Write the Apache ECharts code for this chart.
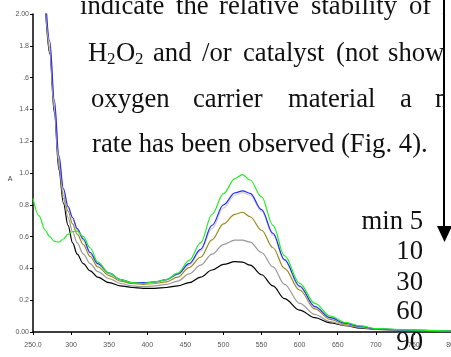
<!DOCTYPE html>
<html>
<head>
<meta charset="utf-8">
<script src="https://cdn.jsdelivr.net/npm/echarts@6/dist/echarts.min.js"></script>
<style>
  html, body { margin: 0; padding: 0; background: #fff; }
  #chart { width: 451px; height: 357px; }
</style>
</head>
<body>
<div id="chart"></div>
<script>
// wavelengths (nm) shared by all curves
const wavelengths = [250, 258, 266, 272, 278, 284, 290, 296, 302, 308, 316, 325, 335, 350, 365, 380, 395, 410, 425, 440, 455, 470, 485, 500, 515, 525, 535, 550, 565, 580, 600, 620, 640, 660, 680, 700, 750, 800]

// absorbance per curve (null = not drawn there)
const black = [null, null, 2.06, 1.75, 1.38, 1.02, 0.81, 0.67, 0.56, 0.49, 0.43, 0.385, 0.345, 0.31, 0.29, 0.28, 0.275, 0.275, 0.28, 0.29, 0.31, 0.345, 0.39, 0.425, 0.442, 0.44, 0.42, 0.36, 0.29, 0.21, 0.138, 0.09, 0.058, 0.04, 0.025, 0.017, 0.01, 0.005]
const gray = [null, null, 2.08, 1.77, 1.4, 1.05, 0.84, 0.72, 0.63, 0.56, 0.49, 0.43, 0.38, 0.335, 0.305, 0.29, 0.285, 0.29, 0.3, 0.32, 0.365, 0.42, 0.49, 0.55, 0.578, 0.578, 0.565, 0.5, 0.41, 0.3, 0.18, 0.11, 0.065, 0.042, 0.028, 0.018, 0.01, 0.005]
const olive = [null, null, 2.1, 1.79, 1.42, 1.07, 0.86, 0.76, 0.68, 0.615, 0.55, 0.475, 0.41, 0.355, 0.32, 0.305, 0.3, 0.305, 0.315, 0.345, 0.405, 0.47, 0.58, 0.68, 0.74, 0.753, 0.725, 0.64, 0.53, 0.4, 0.264, 0.145, 0.08, 0.048, 0.03, 0.018, 0.01, 0.005]
const lightGray = [null, null, 2.13, 1.81, 1.44, 1.09, 0.88, 0.78, 0.71, 0.64, 0.575, 0.49, 0.425, 0.365, 0.328, 0.31, 0.305, 0.31, 0.325, 0.36, 0.42, 0.51, 0.65, 0.78, 0.86, 0.876, 0.86, 0.76, 0.61, 0.45, 0.28, 0.155, 0.088, 0.053, 0.033, 0.02, 0.01, 0.005]
const blue = [null, null, 2.14, 1.83, 1.46, 1.11, 0.9, 0.79, 0.72, 0.65, 0.585, 0.5, 0.43, 0.37, 0.33, 0.31, 0.31, 0.315, 0.33, 0.365, 0.43, 0.52, 0.67, 0.8, 0.875, 0.888, 0.872, 0.77, 0.62, 0.455, 0.289, 0.16, 0.09, 0.055, 0.035, 0.02, 0.01, 0.005]
const green = [0.84, 0.73, 0.64, 0.6, 0.57, 0.565, 0.585, 0.615, 0.632, 0.635, 0.6, 0.53, 0.44, 0.37, 0.33, 0.31, 0.305, 0.315, 0.33, 0.37, 0.45, 0.56, 0.74, 0.87, 0.965, 0.99, 0.956, 0.85, 0.67, 0.48, 0.306, 0.18, 0.1, 0.06, 0.038, 0.022, 0.012, 0.006]

// overlapping page text (justified words) and the time labels
const textLines = [
  ['indicate', 'the', 'relative', 'stability', 'of', 'H'],
  ['and', '/or', 'catalyst', '(not', 'shown'],
  ['oxygen', 'carrier', 'material', 'a', 'm'],
  ['rate has been observed (Fig. 4).'],
]
const wordX = [
  [80, 176, 219, 311, 409, 442],
  [153, 202, 243, 336, 388],
  [91, 193, 288, 400, 435],
  [92],
]
const lineBaseline = [15, 62, 108, 153]
const timeLabels = ['min 5', '10', '30', '60', '90']
const timeBaseline = [230, 260, 291, 320, 351]

const chart = echarts.init(document.getElementById('chart'))

const SERIF = '26.7px "Liberation Serif", "Times New Roman", serif'
const toMid = 8 // baseline -> middle offset for the serif text

const makeSeries = (vals, color, z) => ({
  type: 'line',
  data: wavelengths.map((w, i) => [w, vals[i]]),
  smooth: 0.35,
  smoothMonotone: 'x',
  showSymbol: false,
  z: z,
  lineStyle: { color: color, width: 1.2 },
  animation: false,
})

const graphics = []
textLines.forEach((words, li) => {
  words.forEach((w, wi) => {
    graphics.push({
      type: 'text', z: 50,
      style: { text: w, x: wordX[li][wi], y: lineBaseline[li] - toMid, font: SERIF, fill: '#111', verticalAlign: 'middle', align: 'left' },
    })
  })
})
// H2O2 with subscripts
const sub = [['H', 88, 0], ['2', 107, 1], ['O', 116, 0], ['2', 135, 1]]
sub.forEach(([t, x, s]) => {
  graphics.push({
    type: 'text', z: 50,
    style: {
      text: t, x: x,
      y: s ? lineBaseline[1] - 2 : lineBaseline[1] - toMid,
      font: s ? '17px "Liberation Serif", serif' : SERIF,
      fill: '#111', verticalAlign: 'middle', align: 'left',
    },
  })
})
timeLabels.forEach((t, i) => {
  graphics.push({
    type: 'text', z: 50,
    style: { text: t, x: 423, y: timeBaseline[i] - toMid, font: SERIF, fill: '#111', verticalAlign: 'middle', align: 'right' },
  })
})
// white strip right of the arrow, arrow line and head
graphics.push({ type: 'rect', z: 60, shape: { x: 445, y: 0, width: 6, height: 226 }, style: { fill: '#fff' } })
graphics.push({ type: 'line', z: 61, shape: { x1: 444, y1: 0, x2: 444, y2: 230 }, style: { stroke: '#000', lineWidth: 2 } })
graphics.push({ type: 'polygon', z: 61, shape: { points: [[437, 226], [452, 226], [444.5, 242]] }, style: { fill: '#000' } })
// y axis name
graphics.push({ type: 'text', z: 50, style: { text: 'A', x: 10, y: 179, font: '7px "Liberation Sans", Arial, sans-serif', fill: '#444', align: 'center', verticalAlign: 'middle' } })

chart.setOption({
  animation: false,
  grid: { left: 33, right: -1, top: 14, bottom: 25, containLabel: false, outerBoundsMode: 'none' },
  xAxis: {
    type: 'value',
    min: 250,
    max: 800,
    interval: 50,
    axisLine: { lineStyle: { color: '#000', width: 1.5 } },
    axisTick: { show: true, length: 3, lineStyle: { color: '#000' } },
    axisLabel: {
      fontSize: 7, color: '#555', margin: 10,
      fontFamily: '"Liberation Sans", Arial, sans-serif',
      formatter: (v) => (v === 250 ? '250.0' : String(v)),
    },
    splitLine: { show: false },
  },
  yAxis: {
    type: 'value',
    min: 0,
    max: 2,
    interval: 0.2,
    axisLine: { show: true, lineStyle: { color: '#000', width: 1.5 } },
    axisTick: { show: true, length: 3, lineStyle: { color: '#000' } },
    axisLabel: {
      fontSize: 7, color: '#555', margin: 4,
      fontFamily: '"Liberation Sans", Arial, sans-serif',
      formatter: (v) => {
        if (v === 0) return '0.00'
        if (v === 2) return '2.00'
        if (Math.abs(v - 1.6) < 1e-6) return '.6'
        return v.toFixed(1)
      },
    },
    splitLine: { show: false },
  },
  series: [
    makeSeries(black, '#000000', 2),
    makeSeries(gray, '#999999', 3),
    makeSeries(olive, '#9a8a1a', 4),
    makeSeries(lightGray, '#cfcfcf', 5),
    makeSeries(blue, '#2a2aff', 6),
    makeSeries(green, '#22ee22', 7),
  ],
  graphic: graphics,
})
</script>
</body>
</html>
